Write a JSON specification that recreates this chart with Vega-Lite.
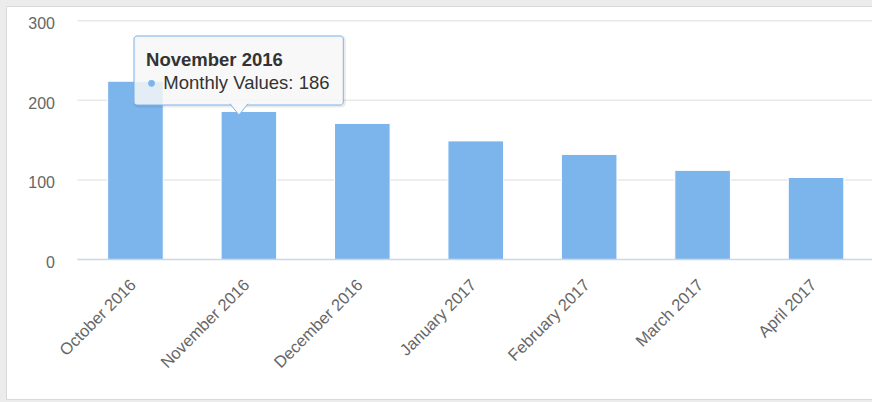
{
  "$schema": "https://vega.github.io/schema/vega-lite/v6.json",
  "width": 866,
  "height": 393,
  "autosize": {"type": "none"},
  "padding": {"left": 6, "top": 6, "right": 0, "bottom": 3},
  "background": "#ececec",
  "config": {
    "view": {"fill": "white", "stroke": "#d9d9d9", "strokeWidth": 1},
    "font": "Liberation Sans"
  },
  "data": {
    "values": [
      {"month": "October 2016", "value": 224},
      {"month": "November 2016", "value": 186},
      {"month": "December 2016", "value": 171},
      {"month": "January 2017", "value": 149},
      {"month": "February 2017", "value": 132},
      {"month": "March 2017", "value": 112},
      {"month": "April 2017", "value": 103}
    ]
  },
  "resolve": {"scale": {"x": "shared", "y": "shared"}},
  "layer": [
    {
      "data": {"values": [{"tick": 100}, {"tick": 200}, {"tick": 300}]},
      "mark": {"type": "rule", "color": "#e9e9e9", "strokeWidth": 1.5},
      "encoding": {
        "x": {"datum": "October 2016", "bandPosition": -0.546},
        "x2": {"datum": "April 2017", "bandPosition": 3},
        "y": {"field": "tick", "type": "quantitative"}
      }
    },
    {
      "mark": {"type": "bar", "color": "#7cb5ec", "stroke": "white", "strokeWidth": 1},
      "encoding": {
        "x": {
          "field": "month",
          "type": "nominal",
          "sort": null,
          "scale": {
            "domain": ["October 2016", "November 2016", "December 2016", "January 2017", "February 2017", "March 2017", "April 2017"],
            "paddingInner": 0.51,
            "paddingOuter": 0.5724,
            "align": 0.783
          },
          "axis": {
            "title": null,
            "orient": "bottom",
            "offset": -139,
            "domain": false,
            "ticks": false,
            "grid": false,
            "labelAngle": -45,
            "labelAlign": "right",
            "labelBaseline": "middle",
            "labelFontSize": 16.5,
            "labelColor": "#666666",
            "labelPadding": 22,
            "labelOffset": -2
          }
        },
        "y": {
          "field": "value",
          "type": "quantitative",
          "stack": null,
          "scale": {"domain": [-175.3, 318.5], "nice": false, "zero": false},
          "axis": {
            "title": null,
            "orient": "left",
            "offset": -48.5,
            "domain": false,
            "ticks": false,
            "grid": false,
            "values": [0, 100, 200, 300],
            "labelFontSize": 16,
            "labelColor": "#666666",
            "labelPadding": 0,
            "labelOffset": 3
          }
        },
        "y2": {"datum": 0}
      }
    },
    {
      "data": {"values": [{"tick": 0}]},
      "mark": {"type": "rule", "color": "#ccd6eb", "strokeWidth": 1.5},
      "encoding": {
        "x": {"datum": "October 2016", "bandPosition": -0.546},
        "x2": {"datum": "April 2017", "bandPosition": 3},
        "y": {"field": "tick", "type": "quantitative"}
      }
    },
    {
      "transform": [{"filter": "datum.month == 'November 2016'"}],
      "mark": {"type": "rect", "filled": false, "stroke": "#000000", "strokeOpacity": 0.08, "strokeWidth": 3, "cornerRadius": 3},
      "encoding": {
        "x": {"datum": "October 2016", "bandPosition": 0.492},
        "x2": {"datum": "December 2016", "bandPosition": 0.176},
        "y": {"datum": 279.5},
        "y2": {"datum": 192.8}
      }
    },
    {
      "transform": [{"filter": "datum.month == 'November 2016'"}],
      "mark": {"type": "rect", "fill": "#f7f7f7", "fillOpacity": 0.85, "stroke": "#7cb5ec", "strokeWidth": 1, "cornerRadius": 3},
      "encoding": {
        "x": {"datum": "October 2016", "bandPosition": 0.474},
        "x2": {"datum": "December 2016", "bandPosition": 0.158},
        "y": {"datum": 280.8},
        "y2": {"datum": 194.1}
      }
    },
    {
      "transform": [{"filter": "datum.month == 'November 2016'"}],
      "mark": {"type": "point", "shape": "M-1,-0.7L0,0.556L1,-0.7", "filled": true, "fill": "#f8f8f8", "fillOpacity": 1, "stroke": "#7cb5ec", "strokeWidth": 1, "size": 324, "opacity": 1},
      "encoding": {
        "x": {"field": "month", "type": "nominal", "bandPosition": 0.322},
        "y": {"datum": 187.8}
      }
    },
    {
      "transform": [{"filter": "datum.month == 'November 2016'"}],
      "mark": {"type": "point", "shape": "circle", "filled": true, "color": "#7cb5ec", "size": 45, "opacity": 1},
      "encoding": {
        "x": {"datum": "October 2016", "bandPosition": 0.789},
        "y": {"datum": 221.4}
      }
    },
    {
      "transform": [{"filter": "datum.month == 'November 2016'"}],
      "mark": {"type": "text", "align": "left", "baseline": "alphabetic", "fontSize": 18.5, "fontWeight": "bold", "color": "#333333"},
      "encoding": {
        "x": {"datum": "October 2016", "bandPosition": 0.69},
        "y": {"datum": 243.1},
        "text": {"field": "month"}
      }
    },
    {
      "transform": [
        {"filter": "datum.month == 'November 2016'"},
        {"calculate": "'Monthly Values: ' + datum.value", "as": "label"}
      ],
      "mark": {"type": "text", "align": "left", "baseline": "alphabetic", "fontSize": 18.5, "color": "#333333"},
      "encoding": {
        "x": {"datum": "October 2016", "bandPosition": 1.0},
        "y": {"datum": 214.2},
        "text": {"field": "label"}
      }
    }
  ]
}
